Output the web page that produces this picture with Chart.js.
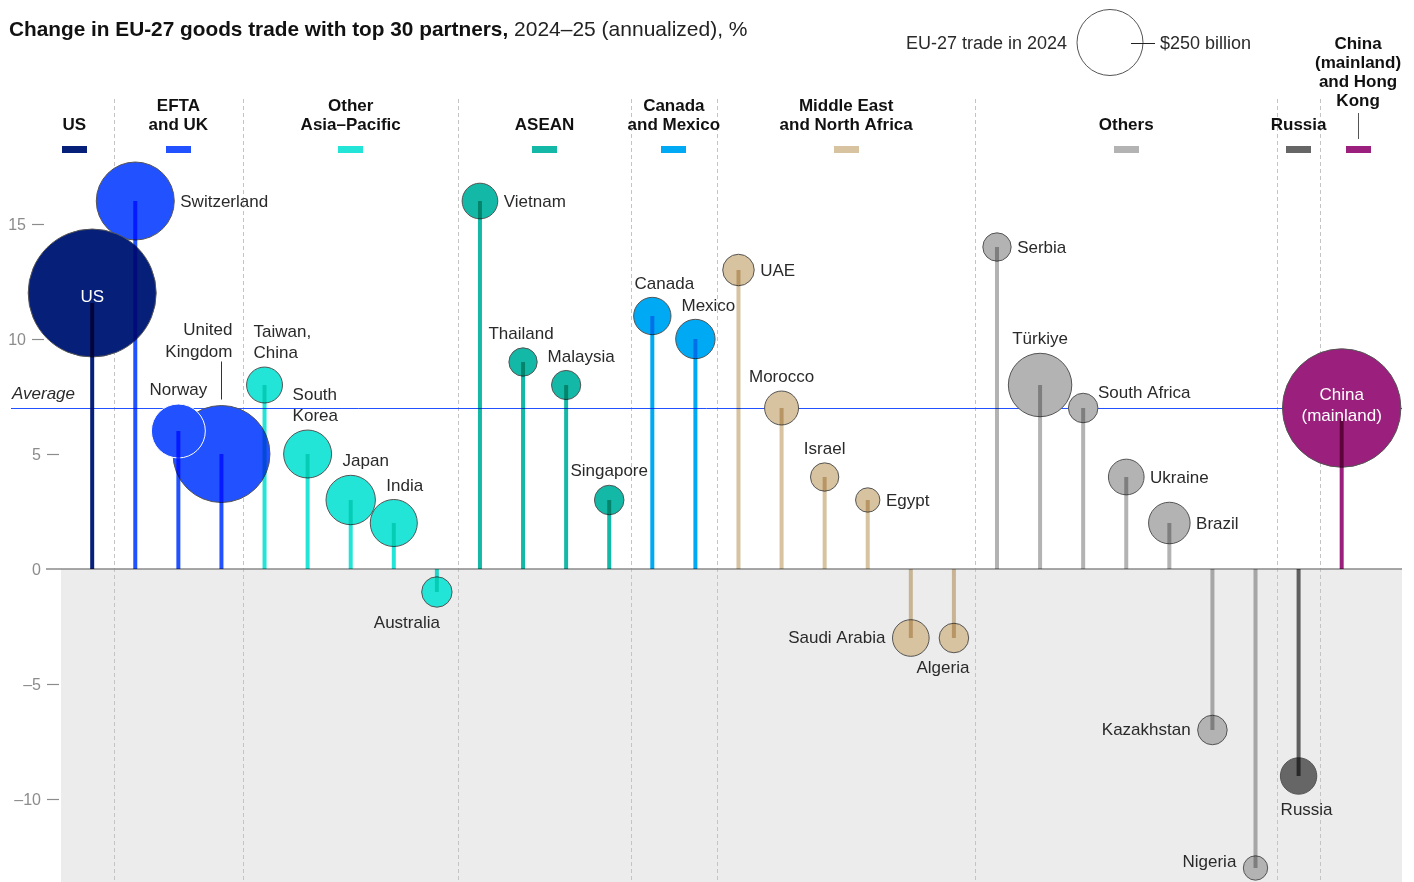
<!DOCTYPE html>
<html><head><meta charset="utf-8">
<script src="https://cdn.jsdelivr.net/npm/chart.js@4/dist/chart.umd.min.js"></script>
<style>html,body{margin:0;padding:0;background:#fff;overflow:hidden;} canvas{display:block;}</style>
</head><body><canvas id="c" width="1414" height="882" style="width:1414px;height:882px"></canvas>
<script>
// ---------- DATA ----------
const countries = ['US','Switzerland','Norway','United Kingdom','Taiwan, China','South Korea','Japan','India','Australia',
  'Vietnam','Thailand','Malaysia','Singapore','Canada','Mexico','UAE','Morocco','Israel','Egypt','Saudi Arabia','Algeria',
  'Serbia','Türkiye','South Africa','Ukraine','Brazil','Kazakhstan','Nigeria','Russia','China (mainland)'];
const labelText = ['US','Switzerland','Norway','United\nKingdom','Taiwan,\nChina','South\nKorea','Japan','India','Australia',
  'Vietnam','Thailand','Malaysia','Singapore','Canada','Mexico','UAE','Morocco','Israel','Egypt','Saudi Arabia','Algeria',
  'Serbia','Türkiye','South Africa','Ukraine','Brazil','Kazakhstan','Nigeria','Russia','China\n(mainland)'];
// change in trade 2024-25 (annualized), %
const change = [12,16,6,5,8,5,3,2,-1, 16,9,8,3, 11,10, 13,7,4,3,-3,-3, 14,8,7,4,2,-7,-13, -9, 7];
// EU-27 trade in 2024, $ billion (bubble area)
const trade2024 = [940,349,167,540,74,132,140,127,53, 73,46,49,50, 80,89, 57,66,46,34,77,50, 46,231,50,73,99,50,34, 76, 805];
const groupOf = ['US','EFTA','EFTA','EFTA','OAP','OAP','OAP','OAP','OAP','ASEAN','ASEAN','ASEAN','ASEAN','CM','CM',
  'MENA','MENA','MENA','MENA','MENA','MENA','Others','Others','Others','Others','Others','Others','Others','Russia','China'];
const groupKeys = ['US','EFTA','OAP','ASEAN','CM','MENA','Others','Russia','China'];
const groupTitles = [['US'],['EFTA','and UK'],['Other','Asia–Pacific'],['ASEAN'],['Canada','and Mexico'],
  ['Middle East','and North Africa'],['Others'],['Russia'],['China','(mainland)','and Hong','Kong']];
const groupColors = ['#06207a','#2251ff','#22e5d7','#14b8a6','#00a9f4','#d8c3a0','#b3b3b3','#666666','#9b1f7c'];
const yTicks = [15,10,5,0,-5,-10];
const yTickText = ['15','10','5','0','–5','–10'];
const averageChange = 7;
const legendTrade = 250;

// ---------- LABEL LAYOUT (annotation placement only) ----------
const labelLayout = {
 'US':{pos:'in',dy:4}, 'Switzerland':{pos:'right'}, 'Norway':{pos:'above'},
 'United Kingdom':{pos:'above',align:'right',dx:11,dy:-40,leader:true},
 'Taiwan, China':{pos:'above',align:'left',dx:-11}, 'South Korea':{pos:'above',align:'left',dx:-15},
 'Japan':{pos:'above',dx:15}, 'India':{pos:'above',dx:11}, 'Australia':{pos:'below',dx:-30},
 'Vietnam':{pos:'right'}, 'Thailand':{pos:'above',dx:-2}, 'Malaysia':{pos:'above',dx:15}, 'Singapore':{pos:'above'},
 'Canada':{pos:'above',dx:12}, 'Mexico':{pos:'above',dx:13}, 'UAE':{pos:'right'}, 'Morocco':{pos:'above'},
 'Israel':{pos:'above'}, 'Egypt':{pos:'right'}, 'Saudi Arabia':{pos:'left'}, 'Algeria':{pos:'below',dx:-11},
 'Serbia':{pos:'right'}, 'Türkiye':{pos:'above'}, 'South Africa':{pos:'right',dx:-6,dy:-16},
 'Ukraine':{pos:'right'}, 'Brazil':{pos:'right'}, 'Kazakhstan':{pos:'left'}, 'Nigeria':{pos:'left',dy:-6},
 'Russia':{pos:'below',dx:8}, 'China (mainland)':{pos:'in',dy:-2}
};

const FONT = '"Liberation Sans", Arial, Helvetica, sans-serif';
const rOf = v => 33*Math.sqrt(v/250);
const colorOf = i => groupColors[groupKeys.indexOf(groupOf[i])];

const points = countries.map((n,i)=>({x:i, y:change[i], r:rOf(trade2024[i]), i:i}));
const drawOrder = points.slice().reverse();

const bgPlugin = {
  id:'bg',
  beforeDraw(chart){
    const {ctx, chartArea:ca, scales:{x,y}} = chart;
    ctx.save();
    ctx.fillStyle='#fff'; ctx.fillRect(0,0,chart.width,chart.height);
    const y0 = y.getPixelForValue(0);
    ctx.fillStyle='#ececec';
    ctx.fillRect(ca.left+15, y0, ca.right-ca.left-15, ca.bottom-y0);
    ctx.strokeStyle='#c4c4c4'; ctx.lineWidth=1; ctx.setLineDash([4,3]);
    for(let i=1;i<groupOf.length;i++){
      if(groupOf[i]!==groupOf[i-1]){
        const px = Math.round(x.getPixelForValue(i-0.5))+0.5;
        ctx.beginPath(); ctx.moveTo(px,99); ctx.lineTo(px,ca.bottom); ctx.stroke();
      }
    }
    ctx.setLineDash([]);
    ctx.strokeStyle='#8a8a8a'; ctx.lineWidth=1.5;
    ctx.beginPath(); ctx.moveTo(ca.left,y0); ctx.lineTo(ca.right,y0); ctx.stroke();
    ctx.font='16px '+FONT; ctx.fillStyle='#8c8c8c'; ctx.textAlign='right'; ctx.textBaseline='middle';
    ctx.strokeStyle='#8c8c8c'; ctx.lineWidth=1.2;
    yTicks.forEach((v,k)=>{
      const py = Math.round(y.getPixelForValue(v))+0.5;
      const sh = v>=10 ? -15 : 0;
      ctx.fillText(yTickText[k], 41+sh, py+1);
      if(v!==0){ ctx.beginPath(); ctx.moveTo(47+sh,py); ctx.lineTo(59+sh,py); ctx.stroke(); }
    });
    const ya = Math.round(y.getPixelForValue(averageChange))+0.5;
    ctx.strokeStyle='#2251ff'; ctx.lineWidth=1;
    ctx.beginPath(); ctx.moveTo(11,ya); ctx.lineTo(ca.right,ya); ctx.stroke();
    ctx.font='italic 17px '+FONT; ctx.fillStyle='#2a2a2a'; ctx.textAlign='left';
    ctx.fillText('Average', 12, ya-14);
    ctx.restore();
  }
};

const fgPlugin = {
  id:'fg',
  afterDatasetsDraw(chart){
    const {ctx, chartArea:ca, scales:{x,y}} = chart;
    const y0 = y.getPixelForValue(0);
    ctx.save();
    ctx.globalCompositeOperation='multiply';
    ctx.lineWidth=4; ctx.lineCap='butt';
    countries.forEach((n,i)=>{
      const px = x.getPixelForValue(i), py = y.getPixelForValue(change[i]);
      const lay = labelLayout[n]||{};
      const end = lay.pos==='in' ? py+10 : py;
      ctx.strokeStyle = colorOf(i);
      ctx.beginPath(); ctx.moveTo(px,y0); ctx.lineTo(px,end); ctx.stroke();
    });
    ctx.globalCompositeOperation='source-over';
    ctx.font='17px '+FONT; ctx.textBaseline='middle';
    const LH=21.5;
    countries.forEach((n,i)=>{
      const cx = x.getPixelForValue(i), cy = y.getPixelForValue(change[i]), r = rOf(trade2024[i]);
      const lay = labelLayout[n]||{pos:'right'};
      const lines = labelText[i].split('\n');
      const dx = lay.dx||0, dy = lay.dy||0;
      ctx.fillStyle='#2a2a2a';
      if(lay.pos==='in'){
        ctx.fillStyle='#ffffff'; ctx.textAlign='center';
        const start = cy+dy-(lines.length-1)*LH/2;
        lines.forEach((t,k)=>ctx.fillText(t,cx+dx,start+k*LH));
      } else if(lay.pos==='right'){
        ctx.textAlign='left';
        lines.forEach((t,k)=>ctx.fillText(t,cx+r+6+dx,cy+1+dy+k*LH));
      } else if(lay.pos==='left'){
        ctx.textAlign='right';
        lines.forEach((t,k)=>ctx.fillText(t,cx-r-7+dx,cy+dy+k*LH));
      } else if(lay.pos==='above'){
        ctx.textAlign = lay.align||'center';
        const last = cy-r-13.5+dy;
        lines.forEach((t,k)=>ctx.fillText(t,cx+dx,last-(lines.length-1-k)*LH));
        if(lay.leader){
          ctx.strokeStyle='#333'; ctx.lineWidth=1;
          const lx=Math.round(cx)+0.5;
          ctx.beginPath(); ctx.moveTo(lx,cy-r-6); ctx.lineTo(lx,cy-r-44); ctx.stroke();
        }
      } else if(lay.pos==='below'){
        ctx.textAlign = lay.align||'center';
        lines.forEach((t,k)=>ctx.fillText(t,cx+dx,cy+r+16+dy+k*LH));
      }
    });
    const n = groupOf.length;
    groupKeys.forEach((g,gi)=>{
      const f = groupOf.indexOf(g), l = groupOf.lastIndexOf(g);
      const left = f===0 ? ca.left-11 : x.getPixelForValue(f-0.5);
      const right = l===n-1 ? ca.right-6 : x.getPixelForValue(l+0.5);
      const cxh = (left+right)/2;
      const lines = groupTitles[gi];
      ctx.font='bold 17px '+FONT; ctx.fillStyle='#111'; ctx.textAlign='center'; ctx.textBaseline='middle';
      const last = lines.length>2 ? 101 : 125;
      lines.forEach((t,k)=>ctx.fillText(t,cxh,last-(lines.length-1-k)*19));
      if(lines.length>2){
        ctx.strokeStyle='#555'; ctx.lineWidth=1;
        ctx.beginPath(); ctx.moveTo(Math.round(cxh)+0.5,113); ctx.lineTo(Math.round(cxh)+0.5,139); ctx.stroke();
      }
      ctx.fillStyle=groupColors[gi];
      ctx.fillRect(Math.round(cxh-12.5),146,25,7);
    });
    ctx.textAlign='left'; ctx.textBaseline='middle'; ctx.fillStyle='#111';
    ctx.font='bold 20.8px '+FONT;
    const tb='Change in EU-27 goods trade with top 30 partners,';
    ctx.fillText(tb,9,30);
    const w = ctx.measureText(tb).width;
    ctx.font='21px '+FONT; ctx.fillStyle='#222';
    ctx.fillText(' 2024–25 (annualized), %',9+w,30);
    const lr = rOf(legendTrade), lcx=1110, lcy=42.5;
    ctx.strokeStyle='#555'; ctx.lineWidth=1;
    ctx.beginPath(); ctx.arc(lcx,lcy,lr,0,Math.PI*2); ctx.stroke();
    ctx.strokeStyle='#222';
    ctx.beginPath(); ctx.moveTo(1131,43.5); ctx.lineTo(1155,43.5); ctx.stroke();
    ctx.font='18px '+FONT; ctx.fillStyle='#2a2a2a';
    ctx.textAlign='right'; ctx.fillText('EU-27 trade in 2024', 1067, 44);
    ctx.textAlign='left'; ctx.fillText('$250 billion', 1160, 44);
    ctx.restore();
  }
};

new Chart(document.getElementById('c'), {
  type:'bubble',
  data:{datasets:[{
    data: drawOrder,
    backgroundColor: c => c.raw ? colorOf(c.raw.i) : '#999',
    borderColor: c => (c.raw && countries[c.raw.i]==='Norway') ? '#ffffff' : '#555555',
    borderWidth:1, hoverBorderWidth:1, clip:false
  }]},
  options:{
    responsive:false, maintainAspectRatio:false, animation:false, events:[], devicePixelRatio:1,
    layout:{autoPadding:false, padding:{left:46,right:12,top:158,bottom:0}},
    scales:{
      x:{type:'linear',min:-1.072,max:30.40,display:false},
      y:{type:'linear',min:-13.609,max:17.870,display:false}
    },
    plugins:{legend:{display:false},tooltip:{enabled:false}}
  },
  plugins:[bgPlugin, fgPlugin]
});
</script></body></html>
